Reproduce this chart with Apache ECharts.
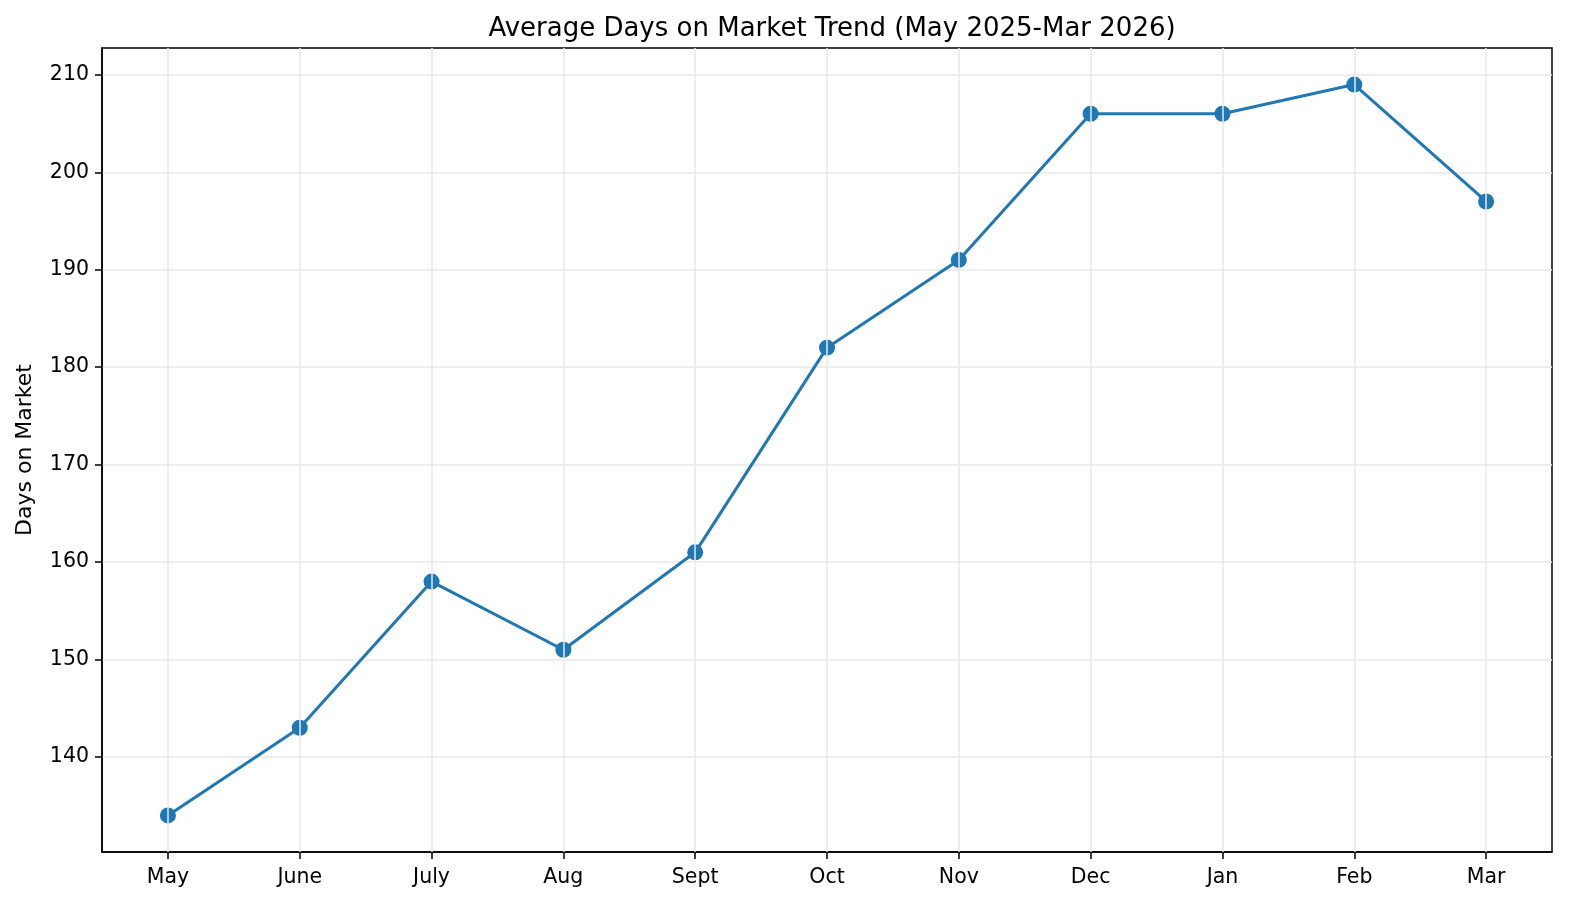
<!DOCTYPE html>
<html>
<head>
<meta charset="utf-8">
<script src="https://cdn.jsdelivr.net/npm/echarts@6/dist/echarts.min.js"></script>
<style>
html,body{margin:0;padding:0;background:#fff;}
#chart{width:1584px;height:912px;}
</style>
</head>
<body>
<div id="chart"></div>
<script>
const months = ['May','June','July','Aug','Sept','Oct','Nov','Dec','Jan','Feb','Mar'];
const daysOnMarket = [134,143,158,151,161,182,191,206,206,209,197];
const titleText = 'Average Days on Market Trend (May 2025-Mar 2026)';
const yAxisName = 'Days on Market';

const dMin = Math.min(...daysOnMarket), dMax = Math.max(...daysOnMarket);
const pad = (dMax - dMin) * 0.05;

const font = 'DejaVu Sans';
const gridL = 102, gridR = 32;
const chart = echarts.init(document.getElementById('chart'), null, {renderer:'canvas'});
chart.setOption({
  animation:false,
  backgroundColor:'#fff',
  title:{text:titleText,left:(gridL + 1584 - gridR)/2,textAlign:'center',top:11,
    textStyle:{fontFamily:font,fontSize:26,fontWeight:'normal',color:'#000'}},
  grid:{left:gridL,right:gridR,top:48,bottom:60,show:true,borderColor:'#000',borderWidth:1.5,backgroundColor:'transparent'},
  xAxis:{
    type:'category',data:months,boundaryGap:true,
    axisLine:{show:true,lineStyle:{color:'#000',width:1.5}},
    axisTick:{show:true,alignWithLabel:true,length:7,lineStyle:{color:'#000',width:1.5}},
    axisLabel:{margin:15,fontFamily:font,fontSize:20.5,color:'#000',interval:0},
    splitLine:{show:false}
  },
  yAxis:{
    type:'value',min:dMin-pad,max:dMax+pad,splitNumber:8,
    name:yAxisName,nameLocation:'middle',nameGap:66,
    nameTextStyle:{fontFamily:font,fontSize:22,color:'#000'},
    axisLine:{show:true,lineStyle:{color:'#000',width:1.5}},
    axisTick:{show:true,length:7,lineStyle:{color:'#000',width:1.5}},
    axisLabel:{margin:13,fontFamily:font,fontSize:20.5,color:'#000',showMinLabel:false,showMaxLabel:false},
    splitLine:{show:true,showMinLine:false,showMaxLine:false,lineStyle:{color:'#e8e8e8',width:1.5}}
  },
  series:[
    {
      type:'line',data:[],z:1,silent:true,
      markLine:{silent:true,symbol:['none','none'],label:{show:false},
        lineStyle:{color:'#e8e8e8',width:1.5,type:'solid'},
        data:months.map(m=>({xAxis:m}))}
    },
    {
      type:'line',data:daysOnMarket,z:3,
      symbol:'circle',symbolSize:16,
      lineStyle:{color:'#1f77b4',width:3},
      itemStyle:{color:'#1f77b4'}
    }
  ]
});
</script>
</body>
</html>
